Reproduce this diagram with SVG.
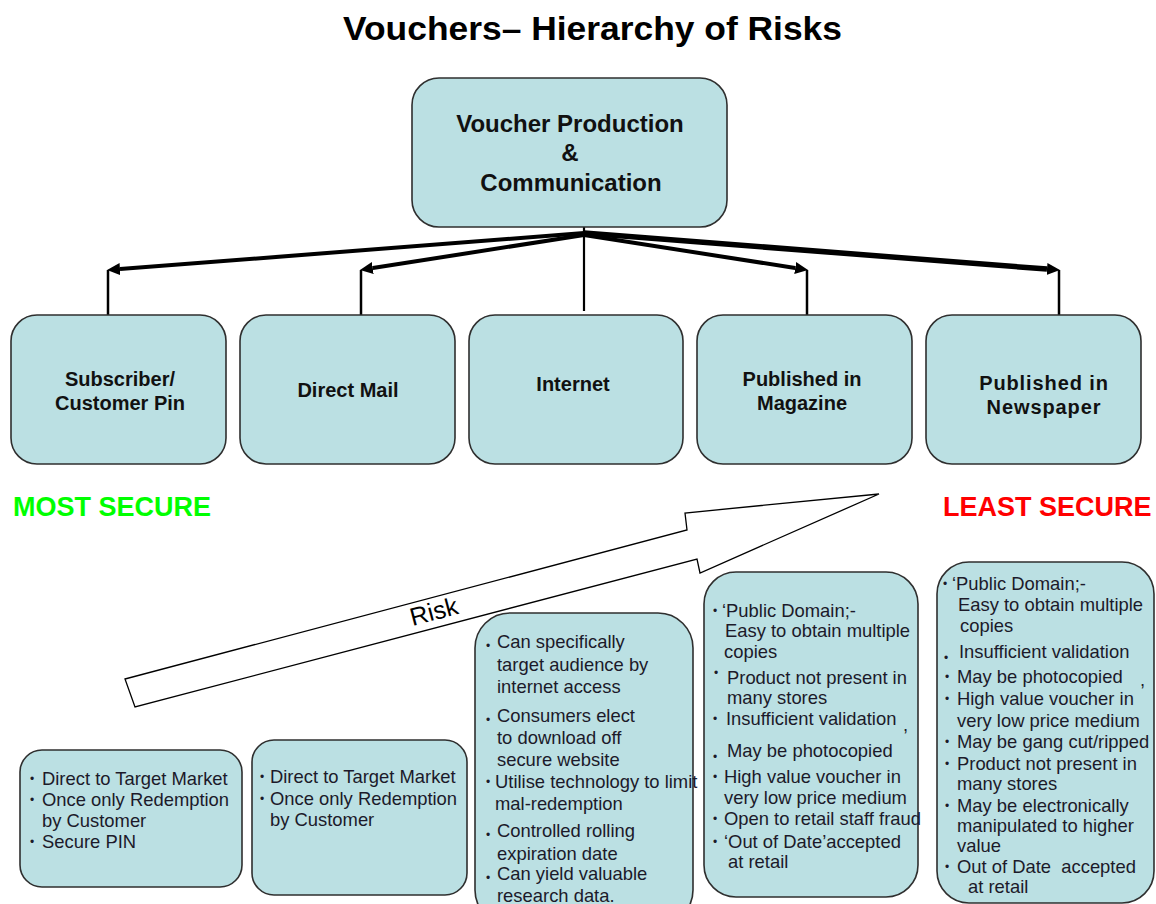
<svg xmlns="http://www.w3.org/2000/svg" width="1156" height="904" viewBox="0 0 1156 904">
<defs>
<style>
.box{fill:#bbe0e3;stroke:#2f2f2f;stroke-width:1.6}
.lbl{font-family:"Liberation Sans",Arial,sans-serif;font-weight:bold;font-size:20px;fill:#111;text-anchor:middle}
.top{font-family:"Liberation Sans",Arial,sans-serif;font-weight:bold;font-size:24px;fill:#111;text-anchor:middle}
.t{font-family:"Liberation Sans",Arial,sans-serif;font-size:18.4px;fill:#1c1a2a}
.b{font-family:"Liberation Sans",Arial,sans-serif;font-size:12px;fill:#1c1a2a}
.conn{stroke:#000;fill:none}
</style>
<marker id="ah" markerUnits="userSpaceOnUse" markerWidth="14" markerHeight="14" refX="0" refY="6" orient="auto">
<path d="M0,0 L13,6 L0,12 Z" fill="#000"/>
</marker>
</defs>
<rect width="1156" height="904" fill="#fff"/>
<text x="343" y="40" font-family="Liberation Sans,Arial,sans-serif" font-weight="bold" font-size="33" fill="#000" textLength="499" lengthAdjust="spacingAndGlyphs">Vouchers– Hierarchy of Risks</text>

<g id="connectors">
<line class="conn" x1="584" y1="227" x2="584" y2="311" stroke-width="2.2"/>
<line class="conn" x1="584" y1="233" x2="120" y2="269.1" stroke-width="4" marker-end="url(#ah)"/>
<line class="conn" x1="584" y1="235" x2="372.8" y2="268" stroke-width="4" marker-end="url(#ah)"/>
<line class="conn" x1="584" y1="235" x2="795.2" y2="268" stroke-width="4" marker-end="url(#ah)"/>
<line class="conn" x1="584" y1="233" x2="1047" y2="269.1" stroke-width="5.5" marker-end="url(#ah)"/>
<line class="conn" x1="108" y1="270" x2="108" y2="316" stroke-width="2.5"/>
<line class="conn" x1="361" y1="270" x2="361" y2="316" stroke-width="2.5"/>
<line class="conn" x1="807" y1="270" x2="807" y2="316" stroke-width="2.5"/>
<line class="conn" x1="1059" y1="270" x2="1059" y2="316" stroke-width="2.5"/>
</g>

<g id="node-production">
<rect class="box" x="412" y="78" width="315" height="149" rx="27"/>
<text class="top" x="570" y="132">Voucher Production</text>
<text class="top" x="570" y="161">&amp;</text>
<text class="top" x="571" y="191">Communication</text>
</g>

<g id="node-subscriber">
<rect class="box" x="11" y="315" width="215" height="149" rx="26"/>
<text class="lbl" x="120" y="386">Subscriber/</text>
<text class="lbl" x="120" y="410">Customer Pin</text>
</g>
<g id="node-directmail">
<rect class="box" x="240" y="315" width="215" height="149" rx="26"/>
<text class="lbl" x="348" y="397">Direct Mail</text>
</g>
<g id="node-internet">
<rect class="box" x="469" y="315" width="214" height="149" rx="26"/>
<text class="lbl" x="573" y="391">Internet</text>
</g>
<g id="node-magazine">
<rect class="box" x="697" y="315" width="215" height="149" rx="26"/>
<text class="lbl" x="802" y="386">Published in</text>
<text class="lbl" x="802" y="410">Magazine</text>
</g>
<g id="node-newspaper">
<rect class="box" x="926" y="315" width="215" height="149" rx="26"/>
<text class="lbl" x="1044" y="390" letter-spacing="0.9">Published in</text>
<text class="lbl" x="1044" y="414" letter-spacing="0.9">Newspaper</text>
</g>

<text x="13" y="516" font-family="Liberation Sans,Arial,sans-serif" font-weight="bold" font-size="27" fill="#00ff00">MOST SECURE</text>
<text x="943" y="516" font-family="Liberation Sans,Arial,sans-serif" font-weight="bold" font-size="27" fill="#ff0000">LEAST SECURE</text>

<g id="risk-arrow">
<polygon points="125,679 687,530 685,513 879,494 700,573 697,559 135,707" fill="#fff" stroke="#000" stroke-width="1.3"/>
<text transform="translate(434,612) rotate(-14.8)" x="0" y="8" font-family="Liberation Sans,Arial,sans-serif" font-size="25" text-anchor="middle" fill="#000">Risk</text>
</g>

<g id="detail-subscriber">
<rect class="box" x="20" y="750" width="222" height="137" rx="22"/>
<text class="b" x="30" y="783">•</text><text class="t" x="42" y="785">Direct to Target Market</text>
<text class="b" x="30" y="804">•</text><text class="t" x="42" y="806">Once only Redemption</text>
<text class="t" x="42" y="827">by Customer</text>
<text class="b" x="30" y="846">•</text><text class="t" x="42" y="848">Secure PIN</text>
</g>

<g id="detail-directmail">
<rect class="box" x="252" y="740" width="215" height="155" rx="22"/>
<text class="b" x="260" y="781">•</text><text class="t" x="270" y="783">Direct to Target Market</text>
<text class="b" x="260" y="803">•</text><text class="t" x="270" y="805">Once only Redemption</text>
<text class="t" x="270" y="826">by Customer</text>
</g>

<g id="detail-internet">
<rect class="box" x="475" y="613" width="218" height="312" rx="35"/>
<text class="b" x="486" y="650">•</text><text class="t" x="497" y="648">Can specifically</text>
<text class="t" x="497" y="671">target audience by</text>
<text class="t" x="497" y="693">internet access</text>
<text class="b" x="486" y="724">•</text><text class="t" x="497" y="722">Consumers elect</text>
<text class="t" x="497" y="744">to download off</text>
<text class="t" x="497" y="766">secure website</text>
<text class="b" x="486" y="786">•</text><text class="t" x="495" y="788">Utilise technology to limit</text>
<text class="t" x="495" y="810">mal-redemption</text>
<text class="b" x="486" y="839">•</text><text class="t" x="497" y="837">Controlled rolling</text>
<text class="t" x="497" y="860">expiration date</text>
<text class="b" x="486" y="882">•</text><text class="t" x="497" y="880">Can yield valuable</text>
<text class="t" x="497" y="902">research data.</text>
</g>

<g id="detail-magazine">
<rect class="box" x="704" y="572" width="214" height="325" rx="32"/>
<text class="b" x="713" y="615">•</text><text class="t" x="722" y="617">‘Public Domain;-</text>
<text class="t" x="725" y="637">Easy to obtain multiple</text>
<text class="t" x="724" y="658">copies</text>
<text class="b" x="714" y="677">•</text><text class="t" x="727" y="684">Product not present in</text>
<text class="t" x="727" y="704">many stores</text>
<text class="b" x="713" y="723">•</text><text class="t" x="726" y="725">Insufficient validation</text>
<text class="t" x="903" y="731" font-size="12">,</text>
<text class="b" x="713" y="761">•</text><text class="t" x="727" y="757">May be photocopied</text>
<text class="b" x="713" y="781">•</text><text class="t" x="724" y="783">High value voucher in</text>
<text class="t" x="724" y="804">very low price medium</text>
<text class="b" x="713" y="823">•</text><text class="t" x="724" y="825">Open to retail staff fraud</text>
<text class="b" x="713" y="846">•</text><text class="t" x="724" y="848">‘Out of Date’accepted</text>
<text class="t" x="728" y="868">at retail</text>
</g>

<g id="detail-newspaper">
<rect class="box" x="937" y="562" width="217" height="341" rx="32"/>
<text class="b" x="943" y="588">•</text><text class="t" x="952" y="590">‘Public Domain;-</text>
<text class="t" x="958" y="611">Easy to obtain multiple</text>
<text class="t" x="960" y="632">copies</text>
<text class="b" x="944" y="662">•</text><text class="t" x="959" y="658">Insufficient validation</text>
<text class="b" x="945" y="681">•</text><text class="t" x="957" y="683">May be photocopied</text>
<text class="t" x="1140" y="686" font-size="12">,</text>
<text class="b" x="945" y="703">•</text><text class="t" x="957" y="705">High value voucher in</text>
<text class="t" x="957" y="727">very low price medium</text>
<text class="b" x="945" y="746">•</text><text class="t" x="957" y="748">May be gang cut/ripped</text>
<text class="b" x="945" y="768">•</text><text class="t" x="957" y="770">Product not present in</text>
<text class="t" x="957" y="790">many stores</text>
<text class="b" x="945" y="810">•</text><text class="t" x="957" y="812">May be electronically</text>
<text class="t" x="957" y="832">manipulated to higher</text>
<text class="t" x="957" y="852">value</text>
<text class="b" x="945" y="871">•</text><text class="t" x="957" y="873" style="white-space:pre">Out of Date  accepted</text>
<text class="t" x="968" y="893">at retail</text>
</g>
</svg>
